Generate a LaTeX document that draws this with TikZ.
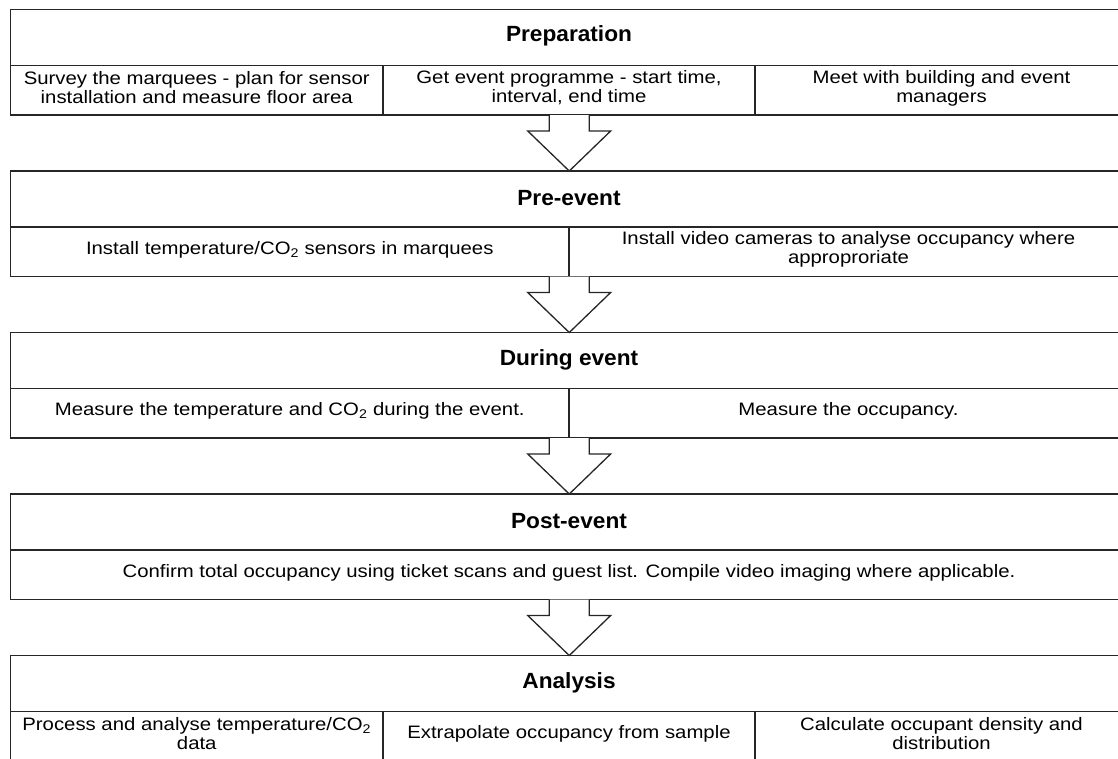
\documentclass[tikz,border=0pt]{standalone}
\usepackage{fontspec}
\setmainfont{Liberation Sans}
\newfontfamily\bodyfont[FakeStretch=1.13]{Liberation Sans}
\newfontfamily\titlefont[FakeStretch=1.03]{Liberation Sans}
\definecolor{linegray}{gray}{0.15}

\tikzset{
    stagebox/.style={draw=linegray, line width=1.3pt, minimum width=1117.5pt,
        minimum height=105.5pt, inner sep=0pt, outer sep=0pt, anchor=north west},
    stagetitle/.style={font=\titlefont\fontsize{22}{24}\selectfont\bfseries, inner sep=0pt},
    celltext/.style={font=\bodyfont\fontsize{18}{19}\selectfont, align=center, inner sep=0pt},
    rule/.style={draw=linegray, line width=1.3pt},
    blockarrow/.style={draw=linegray, line width=1.3pt, fill=white, line join=miter},
}

\begin{document}
\begin{tikzpicture}[x=1pt,y=-1pt]
    \useasboundingbox (0,0) rectangle (1118,758);
    \clip (0,0) rectangle (1118,758);
    \fill[white] (0,0) rectangle (1118,758);

    % stages
    \node[stagebox] (prep)   at (10.5,9.5)   {};
    \node[stagebox] (pre)    at (10.5,171)   {};
    \node[stagebox] (during) at (10.5,332.5) {};
    \node[stagebox] (post)   at (10.5,494)   {};
    \node[stagebox] (anal)   at (10.5,655.5) {};

    % header rules
    \draw[rule] (10.5,65.5)  -- (1128,65.5);
    \draw[rule] (10.5,227)   -- (1128,227);
    \draw[rule] (10.5,388.5) -- (1128,388.5);
    \draw[rule] (10.5,550)   -- (1128,550);
    \draw[rule] (10.5,711.5) -- (1128,711.5);

    % column rules
    \draw[rule] (383,65.5)  -- (383,115);
    \draw[rule] (755,65.5)  -- (755,115);
    \draw[rule] (569,227)   -- (569,276.5);
    \draw[rule] (569,388.5) -- (569,438);
    \draw[rule] (383,711.5) -- (383,761);
    \draw[rule] (755,711.5) -- (755,761);

    % titles
    \node[stagetitle] (prept)   at (569,35.5)  {Preparation};
    \node[stagetitle] (pret)    at (569,198)   {Pre-event};
    \node[stagetitle] (duringt) at (569,359.5) {During event};
    \node[stagetitle] (postt)   at (569,521)   {Post-event};
    \node[stagetitle] (analt)   at (569,682.5) {Analysis};

    % cells
    \node[celltext] (survey)  at (196.75,88) {Survey the marquees - plan for sensor\\installation and measure floor area};
    \node[celltext] (program) at (569,88)    {Get event programme - start time,\\interval, end time};
    \node[celltext] (meet)    at (941.5,88)  {Meet with building and event\\managers};

    \node[celltext] (sensors) at (289.75,249.5) {Install temperature/CO\textsubscript{2} sensors in marquees};
    \node[celltext] (cameras) at (848.5,249.5)  {Install video cameras to analyse occupancy where\\approproriate};

    \node[celltext] (measure) at (289.75,411) {Measure the temperature and CO\textsubscript{2} during the event.};
    \node[celltext] (occup)   at (848.5,411)  {Measure the occupancy.};

    \node[celltext] (confirm) at (569,573) {Confirm total occupancy using ticket scans and guest list. Compile video imaging where applicable.};

    \node[celltext] (process) at (196.75,734) {Process and analyse temperature/CO\textsubscript{2}\\data};
    \node[celltext] (extra)   at (569,734)    {Extrapolate occupancy from sample};
    \node[celltext] (calc)    at (941.5,734)  {Calculate occupant density and\\distribution};

    % arrows
    \draw[blockarrow] ([xshift=-20pt]prep.south) -- ++(0,16) -- ++(-21.5,0) -- (pre.north)
        -- ++(41.5,-40.1) -- ++(-21.5,0) -- ([xshift=20pt]prep.south);
    \draw[blockarrow] ([xshift=-20pt]pre.south) -- ++(0,16) -- ++(-21.5,0) -- (during.north)
        -- ++(41.5,-40.1) -- ++(-21.5,0) -- ([xshift=20pt]pre.south);
    \draw[blockarrow] ([xshift=-20pt]during.south) -- ++(0,16) -- ++(-21.5,0) -- (post.north)
        -- ++(41.5,-40.1) -- ++(-21.5,0) -- ([xshift=20pt]during.south);
    \draw[blockarrow] ([xshift=-20pt]post.south) -- ++(0,16) -- ++(-21.5,0) -- (anal.north)
        -- ++(41.5,-40.1) -- ++(-21.5,0) -- ([xshift=20pt]post.south);
\end{tikzpicture}
\end{document}
